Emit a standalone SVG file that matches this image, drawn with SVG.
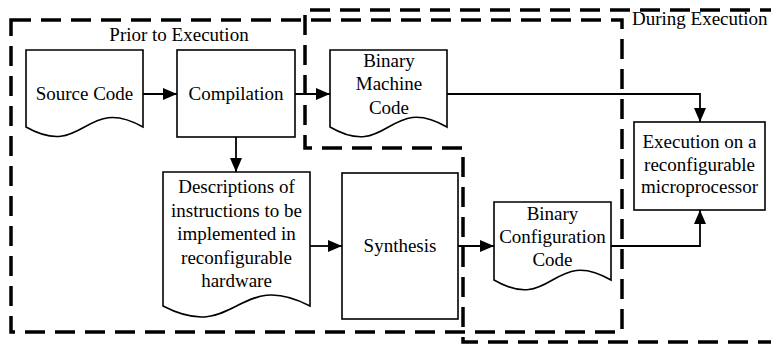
<svg xmlns="http://www.w3.org/2000/svg" width="771" height="346" viewBox="0 0 771 346">
  <style>
    .shape { fill: #ffffff; stroke: #000000; stroke-width: 1.6; }
    .zone { fill: none; stroke: #000000; stroke-width: 3.5; stroke-dasharray: 20 10; }
    .wire { fill: none; stroke: #000000; stroke-width: 1.8; marker-end: url(#arrow); }
    .c { text-anchor: middle; }
  </style>
  <defs>
    <marker id="arrow" markerUnits="userSpaceOnUse" markerWidth="14" markerHeight="12" refX="14" refY="6" orient="auto">
      <path d="M0,0 L14,6 L0,12 Z" fill="#000000"/>
    </marker>
  </defs>

  <g font-family="Liberation Serif, DejaVu Serif, serif" font-size="19" fill="#000000">
  <!-- phase boundaries -->
  <g id="zones">
    <rect class="zone" x="11" y="20" width="611" height="312"/>
    <path class="zone" d="M780,10 H305 V148 H463 V342 H780"/>
    <text x="179" y="41" class="c">Prior to Execution</text>
    <text x="632" y="25">During Execution</text>
  </g>

  <!-- connectors -->
  <g id="connectors">
    <path class="wire" d="M143,94 H177"/>
    <path class="wire" d="M295,94 H330"/>
    <path class="wire" d="M236,137 V172"/>
    <path class="wire" d="M310,246 H342"/>
    <path class="wire" d="M458,246 H494"/>
    <path class="wire" d="M447,94 H700 V122"/>
    <path class="wire" d="M611,246 H700 V210"/>
  </g>

  <g id="source-code">
    <path class="shape" d="M26,50 H143 V127 C84.5,94 84.5,160 26,127 Z"/>
    <text x="84.5" y="100" class="c">Source Code</text>
  </g>

  <g id="compilation">
    <rect class="shape" x="177" y="50" width="118" height="87"/>
    <text x="236" y="100" class="c">Compilation</text>
  </g>

  <g id="binary-machine-code">
    <path class="shape" d="M330,50 H447 V127 C388.5,93 388.5,161 330,127 Z"/>
    <text x="389" y="67" class="c">Binary</text>
    <text x="389" y="90" class="c">Machine</text>
    <text x="389" y="114" class="c">Code</text>
  </g>

  <g id="descriptions">
    <path class="shape" d="M163,172 H310 V306 C236.5,268 236.5,344 163,306 Z"/>
    <text x="236.5" y="193" class="c">Descriptions of</text>
    <text x="236.5" y="216.5" class="c">instructions to be</text>
    <text x="236.5" y="240" class="c">implemented in</text>
    <text x="236.5" y="263.5" class="c">reconfigurable</text>
    <text x="236.5" y="287" class="c">hardware</text>
  </g>

  <g id="synthesis">
    <rect class="shape" x="342" y="173" width="116" height="146"/>
    <text x="400" y="252" class="c">Synthesis</text>
  </g>

  <g id="binary-configuration-code">
    <path class="shape" d="M494,202 H611 V280 C552.5,246 552.5,314 494,280 Z"/>
    <text x="552.5" y="220" class="c">Binary</text>
    <text x="552.5" y="243" class="c">Configuration</text>
    <text x="552.5" y="266" class="c">Code</text>
  </g>

  <g id="execution">
    <rect class="shape" x="634" y="122" width="131" height="88"/>
    <text x="699.5" y="148" class="c">Execution on a</text>
    <text x="699.5" y="171" class="c">reconfigurable</text>
    <text x="699.5" y="193" class="c">microprocessor</text>
  </g>
  </g>
</svg>
